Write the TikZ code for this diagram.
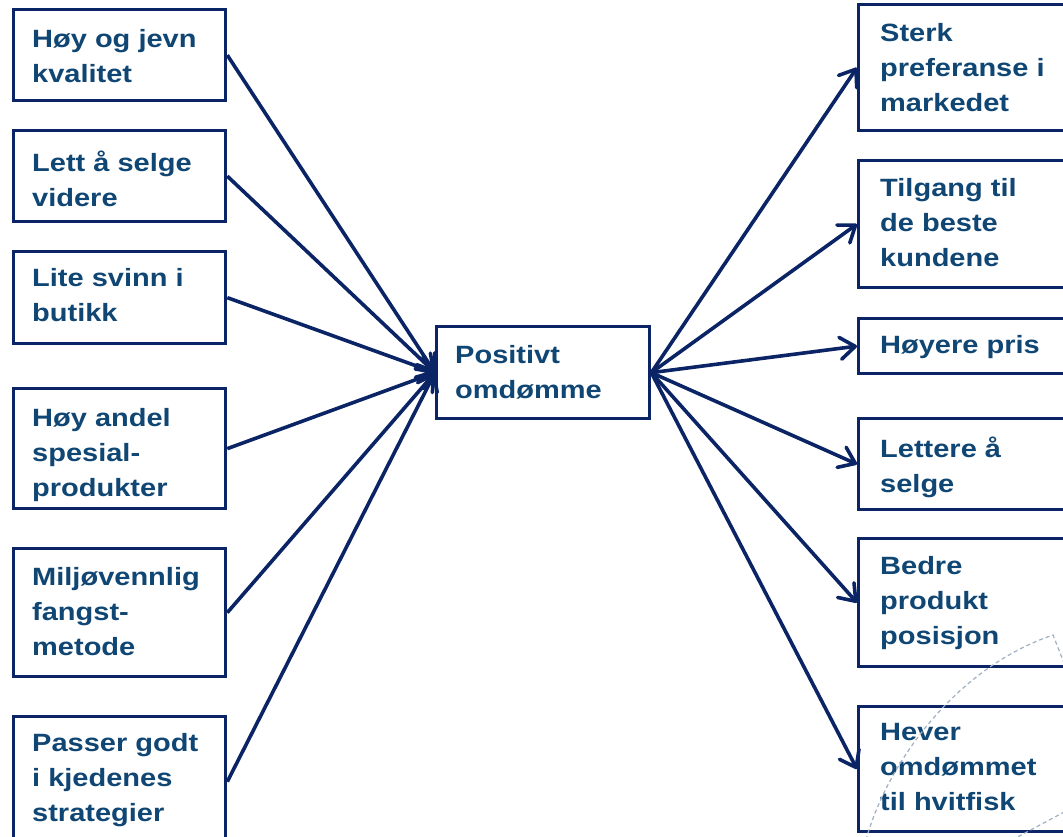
\documentclass[tikz,border=0pt]{standalone}
\usepackage{fontspec}
\newfontfamily\bxfont{Liberation Sans}[FakeStretch=1.16]
\usetikzlibrary{arrows.meta}
\definecolor{navyb}{HTML}{0B2466}
\definecolor{txtb}{HTML}{104673}
\definecolor{arcg}{HTML}{A0B0C2}
\begin{document}
\begin{tikzpicture}[x=1pt,y=-1pt,
  boxst/.style={draw=navyb, line width=3.3pt, fill=white, inner sep=0pt, anchor=north west},
  txt/.style={font=\bxfont\bfseries\fontsize{25}{35}\selectfont, text=txtb, align=left, inner sep=0pt, anchor=north west},
  conn/.style={draw=navyb, line width=3.6pt, -{Straight Barb[length=15pt,width=22pt,round]}},
  arcst/.style={draw=arcg, line width=1.2pt, dash pattern=on 4pt off 3pt}
]
\useasboundingbox (0,0) rectangle (1063,837);
\clip (0,0) rectangle (1063,837);

% left boxes
\node[boxst, minimum width=212pt, minimum height=91pt]  (L1) at (12,8) {};
\node[boxst, minimum width=212pt, minimum height=91pt]  (L2) at (12,129) {};
\node[boxst, minimum width=212pt, minimum height=92pt]  (L3) at (12,250) {};
\node[boxst, minimum width=212pt, minimum height=120pt] (L4) at (12,387) {};
\node[boxst, minimum width=212pt, minimum height=128pt] (L5) at (12,547) {};
\node[boxst, minimum width=212pt, minimum height=130pt] (L6) at (12,715) {};

\node[txt] (tL1) at (32,29)  {Høy og jevn\\kvalitet};
\node[txt] (tL2) at (32,151) {Lett å selge\\videre};
\node[txt] (tL3) at (32,268) {Lite svinn i\\butikk};
\node[txt] (tL4) at (32,408) {Høy andel\\spesial-\\produkter};
\node[txt] (tL5) at (32,567) {Miljøvennlig\\fangst-\\metode};
\node[txt] (tL6) at (32,733) {Passer godt\\i kjedenes\\strategier};

% center box
\node[boxst, minimum width=213pt, minimum height=92pt] (C) at (435,325) {};
\node[txt] (tC) at (455,345) {Positivt\\omdømme};

% right boxes
\node[boxst, minimum width=220pt, minimum height=126pt] (R1) at (857,3) {};
\node[boxst, minimum width=220pt, minimum height=127pt] (R2) at (857,159) {};
\node[boxst, minimum width=220pt, minimum height=55pt]  (R3) at (857,317) {};
\node[boxst, minimum width=220pt, minimum height=91pt]  (R4) at (857,417) {};
\node[boxst, minimum width=220pt, minimum height=128pt] (R5) at (857,537) {};
\node[boxst, minimum width=220pt, minimum height=125pt] (R6) at (857,705) {};

\node[txt] (tR1) at (880,23)  {Sterk\\preferanse i\\markedet};
\node[txt] (tR2) at (880,178) {Tilgang til\\de beste\\kundene};
\node[txt] (tR3) at (880,335) {Høyere pris};
\node[txt] (tR4) at (880,437) {Lettere å\\selge};
\node[txt] (tR5) at (880,556) {Bedre\\produkt\\posisjon};
\node[txt] (tR6) at (880,723) {Hever\\omdømmet\\til hvitfisk};

% connectors
\foreach \n in {L1,L2,L3,L4,L5,L6} \draw[conn] (\n.east) -- (C.west);
\foreach \n in {R1,R2,R3,R4,R5,R6} \draw[conn] (C.east) -- (\n.west);

% decorative dashed arc (drawn over the boxes)
\draw[arcst] (866,840) .. controls (885,770) and (950,670) .. (1053,635) -- (1066,668);
\draw[arcst] (1012,840) -- (1066,811);
\end{tikzpicture}
\end{document}
